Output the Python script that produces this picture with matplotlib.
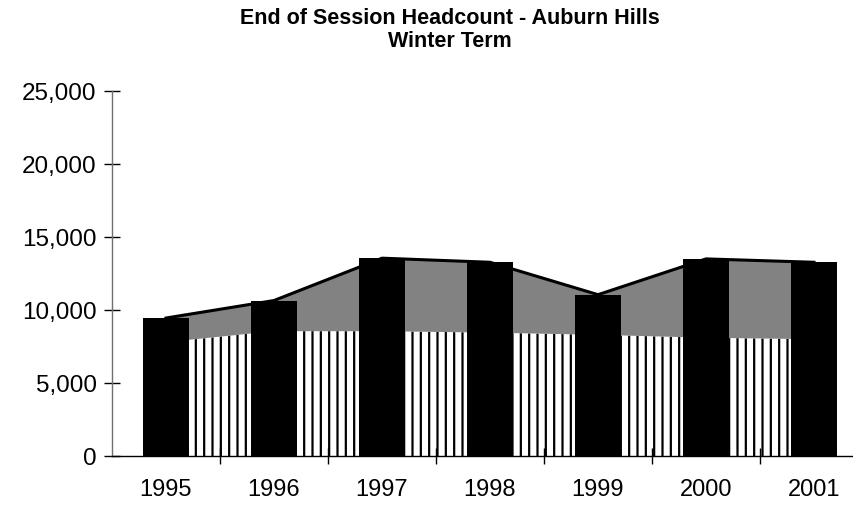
import matplotlib
matplotlib.use("Agg")
import matplotlib.pyplot as plt
import numpy as np

years = ["1995", "1996", "1997", "1998", "1999", "2000", "2001"]
total_headcount = [9450, 10650, 13550, 13270, 11050, 13500, 13270]
lower_part = [7800, 8550, 8550, 8450, 8300, 8100, 8000]
y_ticks = [0, 5000, 10000, 15000, 20000, 25000]
y_tick_labels = ["0", "5,000", "10,000", "15,000", "20,000", "25,000"]
title_text = "End of Session Headcount - Auburn Hills\nWinter Term"

plt.rcParams['font.family'] = ['Liberation Sans', 'DejaVu Sans']
plt.rcParams['hatch.linewidth'] = 1.6

W, H = 854, 506
fig = plt.figure(figsize=(W / 100, H / 100), dpi=100)
ax = fig.add_axes([112 / W, (H - 457) / H, 756 / W, 365 / H])

x = np.arange(len(years))
ax.fill_between(x, 0, lower_part, facecolor='white', edgecolor='black',
                hatch='||', linewidth=0, zorder=1)
ax.fill_between(x, lower_part, total_headcount, facecolor='#828282',
                edgecolor='none', linewidth=0, zorder=1)
ax.plot(x, total_headcount, color='black', lw=2.2, zorder=2)
ax.bar(x, total_headcount, width=0.42, color='black', zorder=3)

ax.set_xlim(-0.5, len(years) - 0.5)
ax.set_ylim(0, 25000)
ax.set_yticks(y_ticks)
ax.set_yticklabels(y_tick_labels)
ax.set_xticks(x)
ax.set_xticklabels(years)
ax.set_xticks(np.arange(0.5, len(years) - 1, 1.0), minor=True)

for s in ['top', 'right']:
    ax.spines[s].set_visible(False)
ax.spines['left'].set_color('#707070')
ax.spines['left'].set_linewidth(1.0)
ax.spines['bottom'].set_color('black')
ax.spines['bottom'].set_linewidth(1.0)

ax.tick_params(axis='y', direction='inout', length=12, width=1.0,
               color='black', labelsize=17.5, pad=5)
ax.tick_params(axis='x', which='major', length=0, labelsize=17, pad=16)
ax.tick_params(axis='x', which='minor', direction='inout', length=12,
               width=1.0, color='black')

fig.text(450 / W, 1 - 30 / H, title_text, ha='center', va='center',
         fontsize=15.5, fontweight='bold', linespacing=1.15)

fig.savefig("out.png", dpi=100)
